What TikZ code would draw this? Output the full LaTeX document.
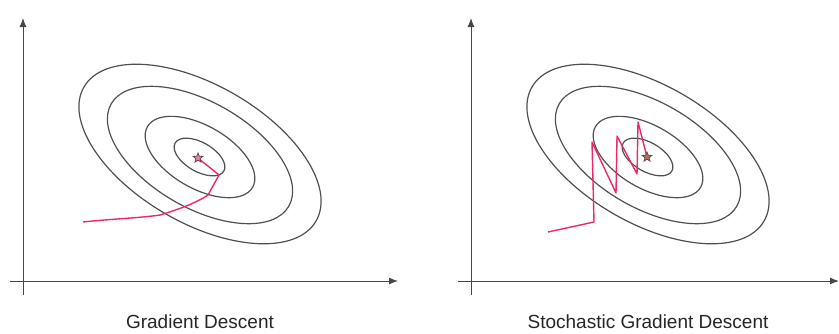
\documentclass[tikz,border=0pt]{standalone}
\usepackage{fontspec}
\setmainfont{Liberation Sans}
\usetikzlibrary{shapes.geometric,arrows.meta}
\definecolor{pathred}{RGB}{238,40,98}
\definecolor{contour}{RGB}{80,80,80}
\definecolor{axisgray}{RGB}{70,70,70}
\definecolor{starL}{RGB}{120,60,80}
\definecolor{starLfill}{RGB}{205,150,170}
\definecolor{starR}{RGB}{110,70,60}
\definecolor{starRfill}{RGB}{175,115,95}
\tikzset{
  axisline/.style={draw=axisgray, line width=0.5pt, -{Latex[length=4.5pt,width=3.5pt]}},
  contourline/.style={draw=contour, line width=0.6pt},
  descent/.style={draw=pathred, line width=0.7pt, line join=round},
  minstar/.style={star, star points=5, star point ratio=2.3, draw, line width=0.4pt, minimum size=5pt, inner sep=0pt},
  caption/.style={font=\fontsize{9.5pt}{11pt}\selectfont, text=black!85, anchor=base, inner sep=0pt}
}
\begin{document}
\begin{tikzpicture}[x=0.5pt, y=-0.5pt]
\useasboundingbox (0,0) rectangle (839,333);
% ---------- left panel ----------
\coordinate (LyB) at (23,295); \coordinate (LyT) at (23,18);
\coordinate (LxL) at (10,281); \coordinate (LxR) at (398,281);
\draw[axisline] (LyB) -- (LyT);
\draw[axisline] (LxL) -- (LxR);
\coordinate (L1) at (200,154); \coordinate (L2) at (200,155);
\coordinate (L3) at (200,157); \coordinate (L4) at (199.5,157);
\draw[contourline, rotate around={-30:(L1)}] (L1) ellipse [x radius=134, y radius=69];
\draw[contourline, rotate around={-30:(L2)}] (L2) ellipse [x radius=102.5, y radius=52.8];
\draw[contourline, rotate around={-30:(L3)}] (L3) ellipse [x radius=60.7, y radius=31.3];
\draw[contourline, rotate around={-30:(L4)}] (L4) ellipse [x radius=28.1, y radius=14.5];
\coordinate (Lsc) at (198,158);
\coordinate (Lp0) at (83,222);
\coordinate (Lp1) at (160,215);
\coordinate (Lp2) at (208,195);
\coordinate (Lp3) at (219,175);
\draw[descent] (Lp0) .. controls (110,219) and (140,218) .. (Lp1) .. controls (180,209) and (198,202) .. (Lp2) -- (Lp3) -- (Lsc);
\node[minstar, draw=starL, fill=starLfill] (Lstar) at (Lsc) {};
\node[caption] (Lcap) at (200,328) {Gradient Descent};
% ---------- right panel ----------
\coordinate (RyB) at (471,295); \coordinate (RyT) at (471,18);
\coordinate (RxL) at (458,281); \coordinate (RxR) at (839,281);
\draw[axisline] (RyB) -- (RyT);
\draw[axisline] (RxL) -- (RxR);
\coordinate (R1) at (648,154); \coordinate (R2) at (648,155);
\coordinate (R3) at (648,157); \coordinate (R4) at (647.5,157);
\draw[contourline, rotate around={-30:(R1)}] (R1) ellipse [x radius=134, y radius=69];
\draw[contourline, rotate around={-30:(R2)}] (R2) ellipse [x radius=102.5, y radius=52.8];
\draw[contourline, rotate around={-30:(R3)}] (R3) ellipse [x radius=60.7, y radius=31.3];
\draw[contourline, rotate around={-30:(R4)}] (R4) ellipse [x radius=28.1, y radius=14.5];
\coordinate (Rsc) at (647,157);
\coordinate (Rp0) at (548,232);
\coordinate (Rp1) at (594,222);
\coordinate (Rp2) at (592,142);
\coordinate (Rp3) at (616,193);
\coordinate (Rp4) at (617,136);
\coordinate (Rp5) at (637,174);
\coordinate (Rp6) at (638,122);
\draw[descent] (Rp0) -- (Rp1) -- (Rp2) -- (Rp3) -- (Rp4) -- (Rp5) -- (Rp6) -- (Rsc);
\node[minstar, draw=starR, fill=starRfill] (Rstar) at (Rsc) {};
\node[caption] (Rcap) at (648,328) {Stochastic Gradient Descent};
\end{tikzpicture}
\end{document}
